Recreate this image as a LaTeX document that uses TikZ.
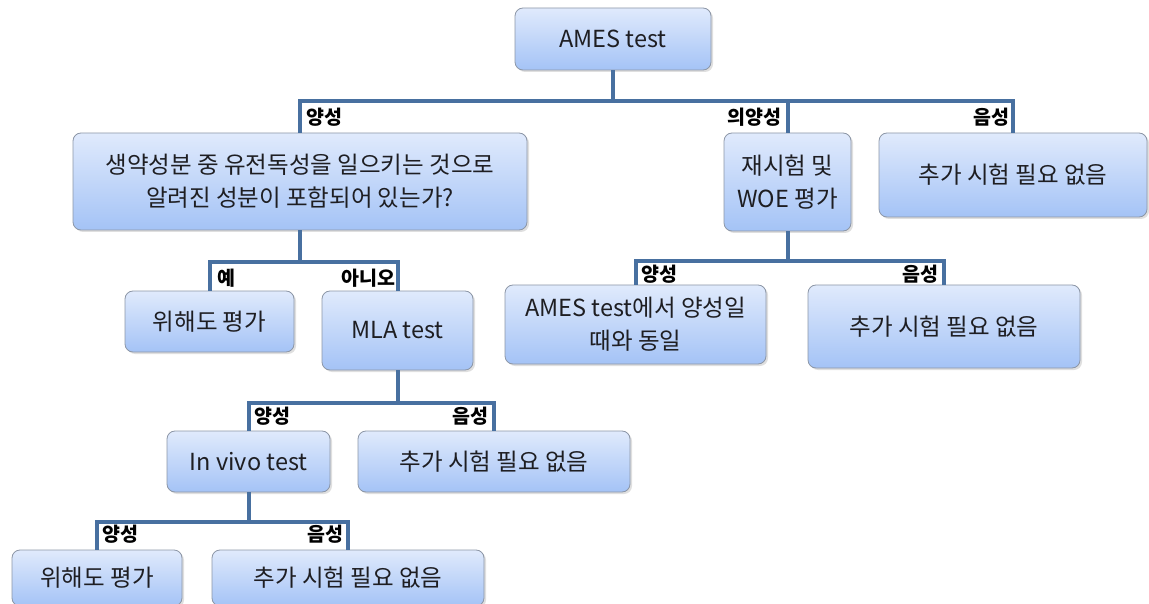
\documentclass[tikz,border=0pt]{standalone}
\usepackage{fontspec}
\setmainfont{Noto Sans CJK KR}
\usetikzlibrary{shadows}
\definecolor{boxTop}{RGB}{224,234,252}
\definecolor{boxBottom}{RGB}{164,195,246}
\definecolor{boxLine}{RGB}{140,150,166}
\definecolor{linkBlue}{RGB}{72,112,160}
\definecolor{inkDark}{RGB}{30,30,34}
\tikzset{
  box/.style={draw=boxLine, line width=0.8pt, rounded corners=8pt, top color=boxTop, bottom color=boxBottom, align=center, text=inkDark, font=\fontsize{23.5}{33}\selectfont, drop shadow={shadow xshift=2pt, shadow yshift=-2pt, opacity=0.25}},
  lbl/.style={font=\fontsize{19.5}{22}\selectfont\bfseries, text=black, inner sep=0pt},
  link/.style={draw=linkBlue, line width=4pt}
}
\begin{document}
\begin{tikzpicture}[x=1pt, y=-1pt]
        \useasboundingbox (0,0) rectangle (1149,604);
        % boxes
        \node[box, minimum width=196pt, minimum height=62pt] (ames) at (613,39) {AMES test};
        \node[box, minimum width=454pt, minimum height=97pt] (herb) at (300,181.5) {생약성분 중 유전독성을 일으키는 것으로\\알려진 성분이 포함되어 있는가?};
        \node[box, minimum width=127pt, minimum height=98pt] (retest) at (787.5,182) {재시험 및\\WOE 평가};
        \node[box, minimum width=268pt, minimum height=84pt] (negA) at (1013,175) {추가 시험 필요 없음};
        \node[box, minimum width=169pt, minimum height=61pt] (harmA) at (209.5,321.5) {위해도 평가};
        \node[box, minimum width=151pt, minimum height=79pt] (mla) at (397.5,330.5) {MLA test};
        \node[box, minimum width=261pt, minimum height=79pt] (same) at (635.5,324.5) {AMES test에서 양성일\\때와 동일};
        \node[box, minimum width=272pt, minimum height=83pt] (negB) at (944,326.5) {추가 시험 필요 없음};
        \node[box, minimum width=163pt, minimum height=61pt] (invivo) at (248.5,461.5) {In vivo test};
        \node[box, minimum width=272pt, minimum height=61pt] (negC) at (494,461.5) {추가 시험 필요 없음};
        \node[box, minimum width=170pt, minimum height=56pt] (harmB) at (97,578) {위해도 평가};
        \node[box, minimum width=272pt, minimum height=56pt] (negD) at (348,578) {추가 시험 필요 없음};
        % branches
        \draw[link] (ames.south) -- ++(0,31) -| (herb.north);
        \draw[link] (ames.south) -- ++(0,31) -| (retest.north);
        \draw[link] (ames.south) -- ++(0,31) -| (negA.north);
        \draw[link] (herb.south) -- ++(0,32) -| (harmA.north);
        \draw[link] (herb.south) -- ++(0,32) -| (mla.north);
        \draw[link] (retest.south) -- ++(0,30) -| (same.north);
        \draw[link] (retest.south) -- ++(0,30) -| (negB.north);
        \draw[link] (mla.south) -- ++(0,33) -| (invivo.north);
        \draw[link] (mla.south) -- ++(0,33) -| (negC.north);
        \draw[link] (invivo.south) -- ++(0,30) -| (harmB.north);
        \draw[link] (invivo.south) -- ++(0,30) -| (negD.north);
        % branch labels
        \node[lbl, anchor=west] (posA) at (306,117) {양성};
        \node[lbl, anchor=east] (eqA) at (782,117) {의양성};
        \node[lbl, anchor=east] (ngA) at (1010,117) {음성};
        \node[lbl, anchor=west] (yes) at (217,278) {예};
        \node[lbl, anchor=east] (no) at (396,278) {아니오};
        \node[lbl, anchor=west] (posB) at (641,274) {양성};
        \node[lbl, anchor=east] (ngB) at (939,274) {음성};
        \node[lbl, anchor=west] (posC) at (254,416) {양성};
        \node[lbl, anchor=east] (ngC) at (489,416) {음성};
        \node[lbl, anchor=west] (posD) at (102,534) {양성};
        \node[lbl, anchor=east] (ngD) at (344,534) {음성};
      \end{tikzpicture}
\end{document}
